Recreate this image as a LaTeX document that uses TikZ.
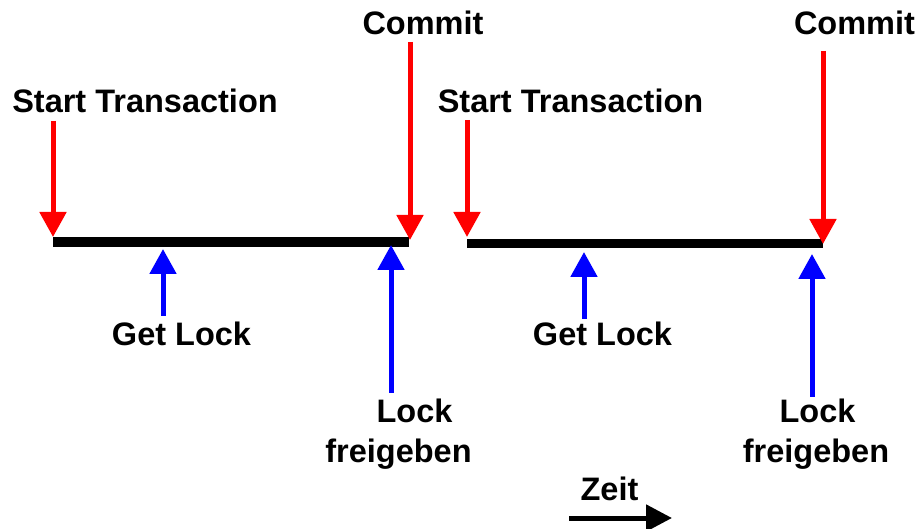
\documentclass[tikz,border=0pt]{standalone}
\usepackage{fontspec}
\setmainfont{Liberation Sans}
\usetikzlibrary{arrows.meta}
\begin{document}
\begin{tikzpicture}[x=1pt,y=-1pt,
  lbl/.style={font=\fontsize{32.5}{39}\selectfont\bfseries, inner sep=0pt, anchor=base},
  axis/.style={line width=9.5pt, line cap=butt},
  evt/.style={line width=5pt, -{Triangle[length=25pt 0,width=26pt 0]}},
  redevt/.style={evt, draw={rgb,255:red,255;green,0;blue,0}},
  blueevt/.style={evt, draw={rgb,255:red,0;green,0;blue,255}},
  timearrow/.style={line width=5pt, -{Triangle[length=26pt 0,width=26pt 0]}}]
\useasboundingbox (0,0) rectangle (919,529);

% first transaction
\coordinate (t1s) at (53,242);
\coordinate (t1e) at (409,242);
\draw[axis] (t1s) -- (t1e);
\node[lbl] (start1) at (145,113) {Start Transaction};
\node[lbl] (commit1) at (423,35) {Commit};
\node[lbl] (get1) at (181.5,346) {Get Lock};
\node[lbl] (lock1) at (414.5,423) {Lock};
\node[lbl] (frei1) at (398.5,462) {freigeben};
\coordinate (s1a) at (53,121);  \coordinate (s1b) at (53,237);
\coordinate (c1a) at (410,42);  \coordinate (c1b) at (410,240);
\coordinate (g1a) at (163,316); \coordinate (g1b) at (163,249);
\coordinate (r1a) at (391,393); \coordinate (r1b) at (391,245);
\draw[redevt] (s1a) -- (s1b);
\draw[redevt] (c1a) -- (c1b);
\draw[blueevt] (g1a) -- (g1b);
\draw[blueevt] (r1a) -- (r1b);

% second transaction
\coordinate (t2s) at (467,243.5);
\coordinate (t2e) at (823,243.5);
\draw[axis] (t2s) -- (t2e);
\node[lbl] (start2) at (570.5,113) {Start Transaction};
\node[lbl] (commit2) at (854.5,35) {Commit};
\node[lbl] (get2) at (602.5,346) {Get Lock};
\node[lbl] (lock2) at (817.5,423) {Lock};
\node[lbl] (frei2) at (816,462) {freigeben};
\coordinate (s2a) at (467,120); \coordinate (s2b) at (467,237);
\coordinate (c2a) at (823,51);  \coordinate (c2b) at (823,244);
\coordinate (g2a) at (584,319); \coordinate (g2b) at (584,252);
\coordinate (r2a) at (812,397); \coordinate (r2b) at (812,254);
\draw[redevt] (s2a) -- (s2b);
\draw[redevt] (c2a) -- (c2b);
\draw[blueevt] (g2a) -- (g2b);
\draw[blueevt] (r2a) -- (r2b);

% time direction
\node[lbl] (zeit) at (609.5,500) {Zeit};
\coordinate (za) at (569,518);
\coordinate (zb) at (672,518);
\draw[timearrow] (za) -- (zb);
\end{tikzpicture}
\end{document}
